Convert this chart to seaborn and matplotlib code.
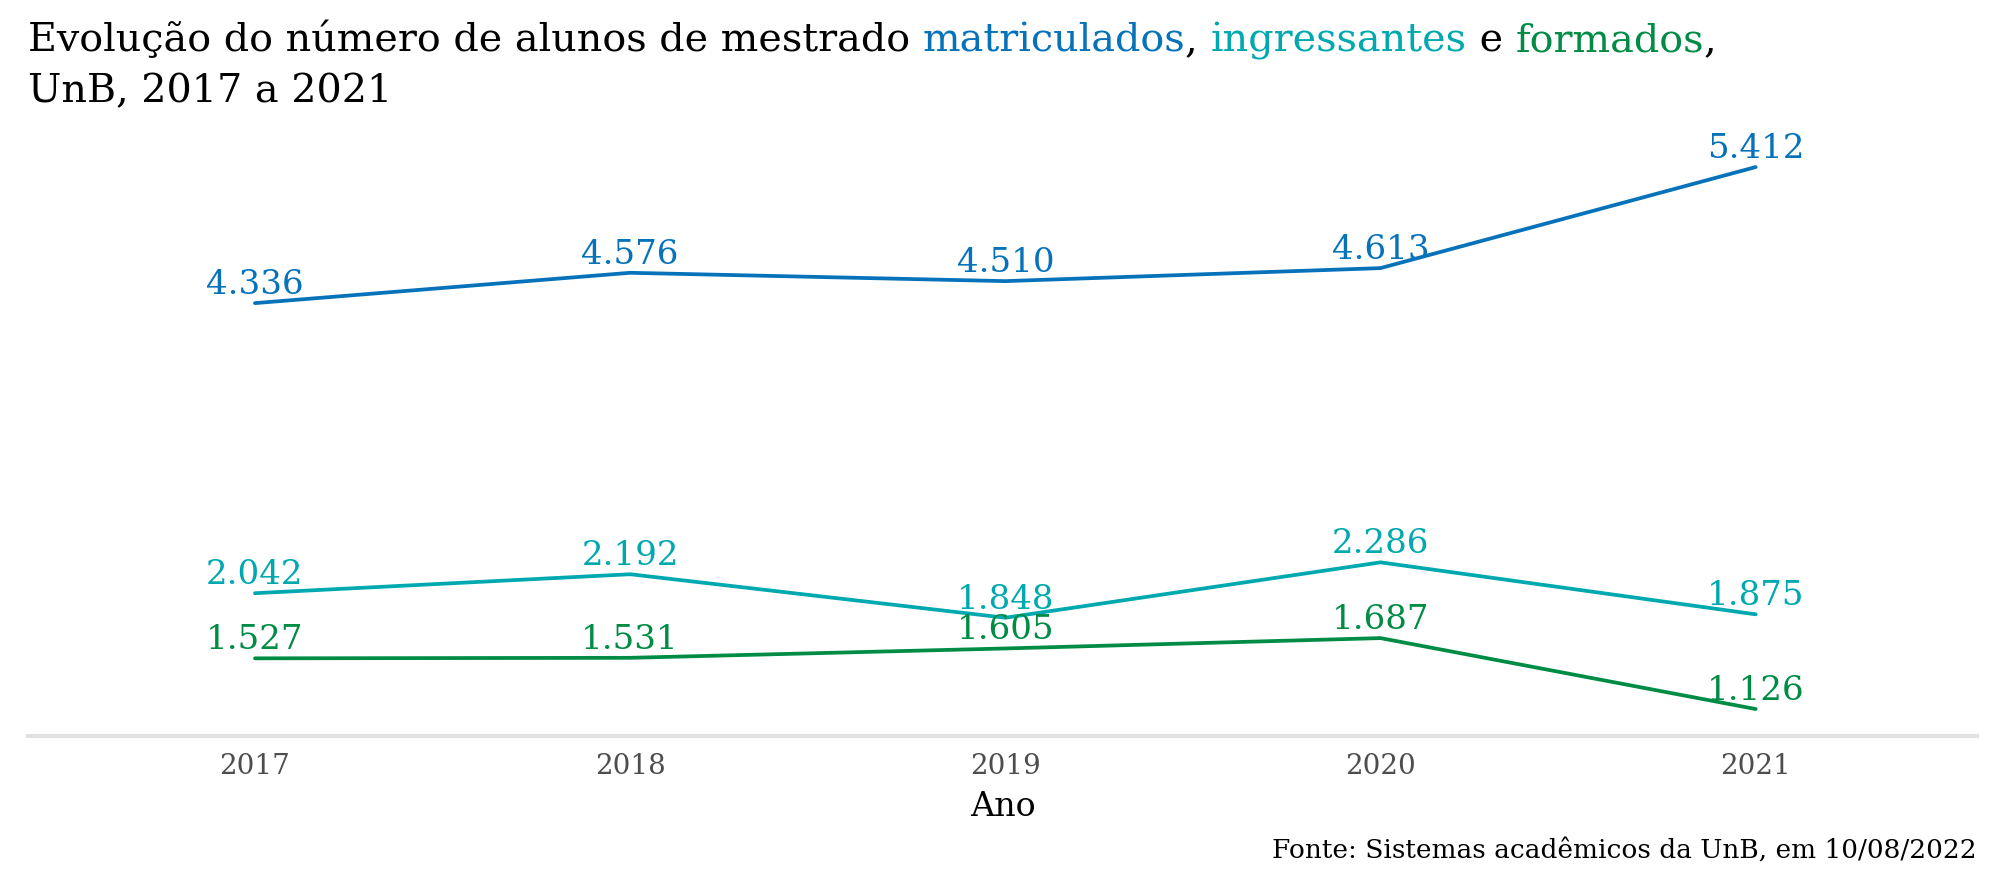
import matplotlib
matplotlib.use("Agg")
import matplotlib.pyplot as plt
import seaborn as sns
import pandas as pd

anos = [2017, 2018, 2019, 2020, 2021]
matriculados = [4336, 4576, 4510, 4613, 5412]
ingressantes = [2042, 2192, 1848, 2286, 1875]
formados = [1527, 1531, 1605, 1687, 1126]

series_names = ["matriculados", "ingressantes", "formados"]
colors = {"matriculados": "#0572BA", "ingressantes": "#00A9AF", "formados": "#008C45"}

df = pd.DataFrame({
    "Ano": anos * 3,
    "valor": matriculados + ingressantes + formados,
    "serie": [s for s in series_names for _ in anos],
})

sns.set_theme(style="white")
plt.rcParams["font.family"] = ["DejaVu Serif"]

fig = plt.figure(figsize=(20, 8.89), dpi=100)
ax = fig.add_axes([0.014, 0.172, 0.9745, 0.6705])

sns.lineplot(data=df, x="Ano", y="valor", hue="serie", palette=colors,
             linewidth=2.7, legend=False, ax=ax)

def fmt(v):
    return f"{v:,}".replace(",", ".")

for s in series_names:
    sub = df[df["serie"] == s]
    for x, y in zip(sub["Ano"], sub["valor"]):
        ax.annotate(fmt(y), (x, y), xytext=(0, 6.5), textcoords="offset points",
                    ha="center", va="baseline", fontsize=24.5, color=colors[s])

ax.set_xlim(2016.395, 2021.59)
ax.set_ylim(912, 5626)
ax.set_xticks(anos)
ax.set_xticklabels([str(a) for a in anos], color="#4D4D4D", fontsize=20)
ax.set_yticks([])
ax.set_ylabel("")
ax.set_xlabel("Ano", fontsize=24, color="black", labelpad=8)
ax.tick_params(axis="x", length=0, pad=12)
for side in ["top", "right", "left"]:
    ax.spines[side].set_visible(False)
ax.spines["bottom"].set_color("#E2E2E2")
ax.spines["bottom"].set_linewidth(3)

# Multi-coloured title
renderer = fig.canvas.get_renderer()
pieces = [("Evolução do número de alunos de mestrado ", "black"),
          ("matriculados", colors["matriculados"]),
          (", ", "black"),
          ("ingressantes", colors["ingressantes"]),
          (" e ", "black"),
          ("formados", colors["formados"]),
          (",", "black")]
x0 = 28
y1 = 889 - 51
tsize = 28.5
for txt, c in pieces:
    t = fig.text(x0 / 2000, y1 / 889, txt, fontsize=tsize, color=c,
                 ha="left", va="baseline")
    bb = t.get_window_extent(renderer=renderer)
    x0 = bb.x1
fig.text(28 / 2000, (889 - 102) / 889, "UnB, 2017 a 2021", fontsize=tsize,
         color="black", ha="left", va="baseline")

fig.text(1977 / 2000, (889 - 858) / 889,
         "Fonte: Sistemas acadêmicos da UnB, em 10/08/2022",
         fontsize=19, color="black", ha="right", va="baseline")

fig.savefig("out.png", dpi=100, facecolor="white")
